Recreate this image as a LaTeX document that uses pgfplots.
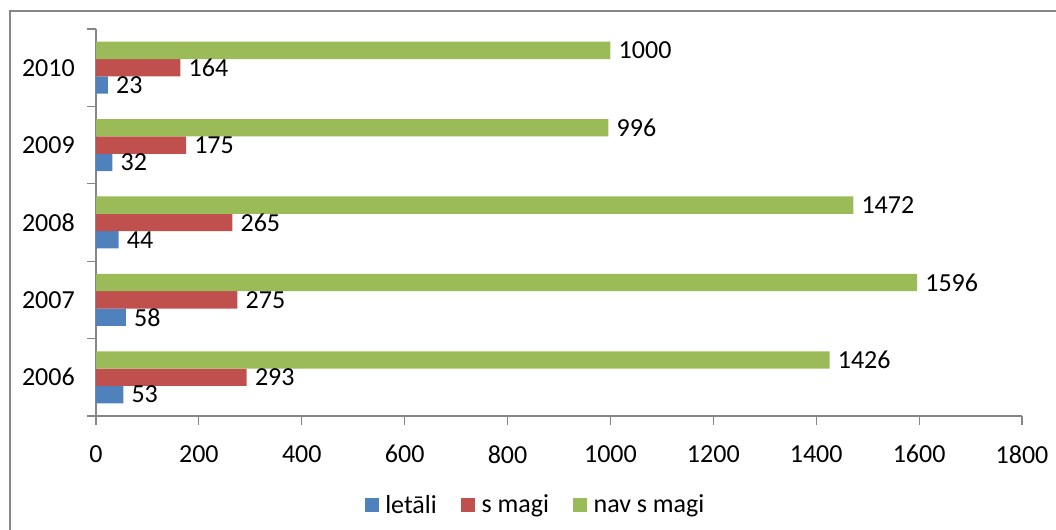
\documentclass[border=0pt]{standalone}
\usepackage{fontspec}
\setmainfont{Carlito}
\usepackage{pgfplots}
\pgfplotsset{compat=1.18}
\definecolor{cblue}{RGB}{79,129,189}
\definecolor{cred}{RGB}{192,80,77}
\definecolor{cgreen}{RGB}{155,187,89}
\definecolor{cframe}{RGB}{134,134,134}
\begin{document}
\begin{tikzpicture}
\useasboundingbox (0,0) rectangle (792pt,397.5pt);
\draw[cframe, line width=1.4pt] (7.5pt,-20pt) -- (7.5pt,389.25pt) -- (830pt,389.25pt);
\begin{axis}[
  at={(72pt,85.5pt)}, anchor=south west,
  scale only axis, width=694.5pt, height=290.25pt,
  xbar=0pt, bar width=13pt,
  xmin=0, xmax=1800, ymin=-0.5, ymax=4.5,
  axis lines=left, axis line style={-, cframe, line width=0.8pt},
  xtick={0,200,...,1800},
  ytick={-0.5,0.5,...,4.5}, yticklabels={},
  extra y ticks={0,1,2,3,4},
  extra y tick labels={2006,2007,2008,2009,2010},
  extra y tick style={major tick length=0pt, yticklabel style={inner sep=0pt, xshift=-15.75pt}},
  tick align=outside, major tick length=6.75pt,
  tick style={cframe, line width=0.8pt},
  every tick label/.append style={font=\fontsize{19.5}{23}\selectfont},
  /pgf/number format/assume math mode=true,
  /pgf/number format/1000 sep={},
  xticklabel style={inner sep=0pt, yshift=-15pt},
  nodes near coords,
  every node near coord/.append style={anchor=west, inner sep=0pt, xshift=6pt, black, font=\fontsize{19.5}{23}\selectfont},
  legend columns=3,
  legend style={at={(0.475,-0.23)}, anchor=center, draw=none, fill=none,
    font=\fontsize{19.5}{23}\selectfont,
    /tikz/every odd column/.append style={column sep=3pt},
    /tikz/every even column/.append style={column sep=16pt}},
  legend image code/.code={\fill[#1,draw=none] (0pt,-5.25pt) rectangle (10.5pt,5.25pt);},
]
\addplot[fill=cblue, draw=none] coordinates {(53,0) (58,1) (44,2) (32,3) (23,4)};
\addplot[fill=cred, draw=none] coordinates {(293,0) (275,1) (265,2) (175,3) (164,4)};
\addplot[fill=cgreen, draw=none] coordinates {(1426,0) (1596,1) (1472,2) (996,3) (1000,4)};
\legend{letāli, s magi, nav s magi}
\end{axis}
\end{tikzpicture}
\end{document}
